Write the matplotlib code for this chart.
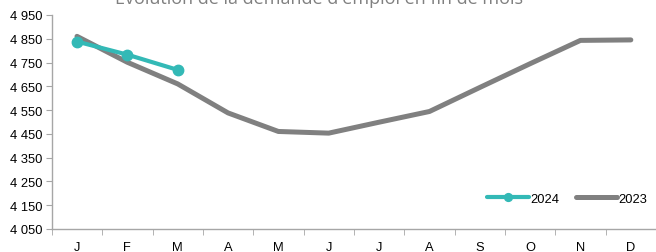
import numpy as np
import matplotlib.pyplot as plt

plt.rcParams['font.family'] = ['Liberation Sans', 'DejaVu Sans']

months = ['J', 'F', 'M', 'A', 'M', 'J', 'J', 'A', 'S', 'O', 'N', 'D']
val_2023 = [4860, 4751, 4660, 4538, 4460, 4453, 4499, 4544, 4645, 4745, 4843, 4845]
val_2024 = [4838, 4783, 4719]
yticks = [4050, 4150, 4250, 4350, 4450, 4550, 4650, 4750, 4850, 4950]

fig = plt.figure(figsize=(6.56, 2.53), dpi=100)
ax = fig.add_axes([0.079, 0.091, 0.921, 0.846])

x = np.arange(len(months))
ax.plot(x[:len(val_2024)], val_2024, color='#33b9b6', lw=3.0, marker='o',
        markersize=7.5, label='2024', solid_capstyle='round', zorder=3)
ax.plot(x, val_2023, color='#808080', lw=3.6, label='2023',
        solid_capstyle='round', zorder=2)

ax.set_xlim(-0.5, 11.5)
ax.set_ylim(4050, 4950)
ax.set_yticks(yticks)
ax.set_yticklabels([f'{v // 1000} {v % 1000:03d}' for v in yticks], fontsize=9.3)
ax.set_xticks(x)
ax.set_xticklabels(months, fontsize=9.3)
ax.set_xticks(np.arange(-0.5, 12, 1), minor=True)
ax.tick_params(axis='x', which='major', length=0, pad=9)
ax.tick_params(axis='x', which='minor', length=4, color='#a6a6a6')
ax.tick_params(axis='y', length=4, color='#a6a6a6', pad=3)

for s in ['top', 'right']:
    ax.spines[s].set_visible(False)
for s in ['left', 'bottom']:
    ax.spines[s].set_color('#a6a6a6')
    ax.spines[s].set_linewidth(1.0)

leg = ax.legend(loc='lower right', ncol=2, frameon=False, fontsize=9.3,
                handlelength=3.2, handletextpad=0.1, columnspacing=1.3,
                bbox_to_anchor=(1.005, 0.06), markerscale=0.75)

# titre coupé en haut, comme sur l'original
fig.text(0.486, 1 - 4.5 / 253, "Évolution de la demande d'emploi en fin de mois",
         ha='center', va='baseline', fontsize=13, color='#808080',
         family=['Open Sans', 'DejaVu Sans'])

fig.savefig('out.png', dpi=100)
